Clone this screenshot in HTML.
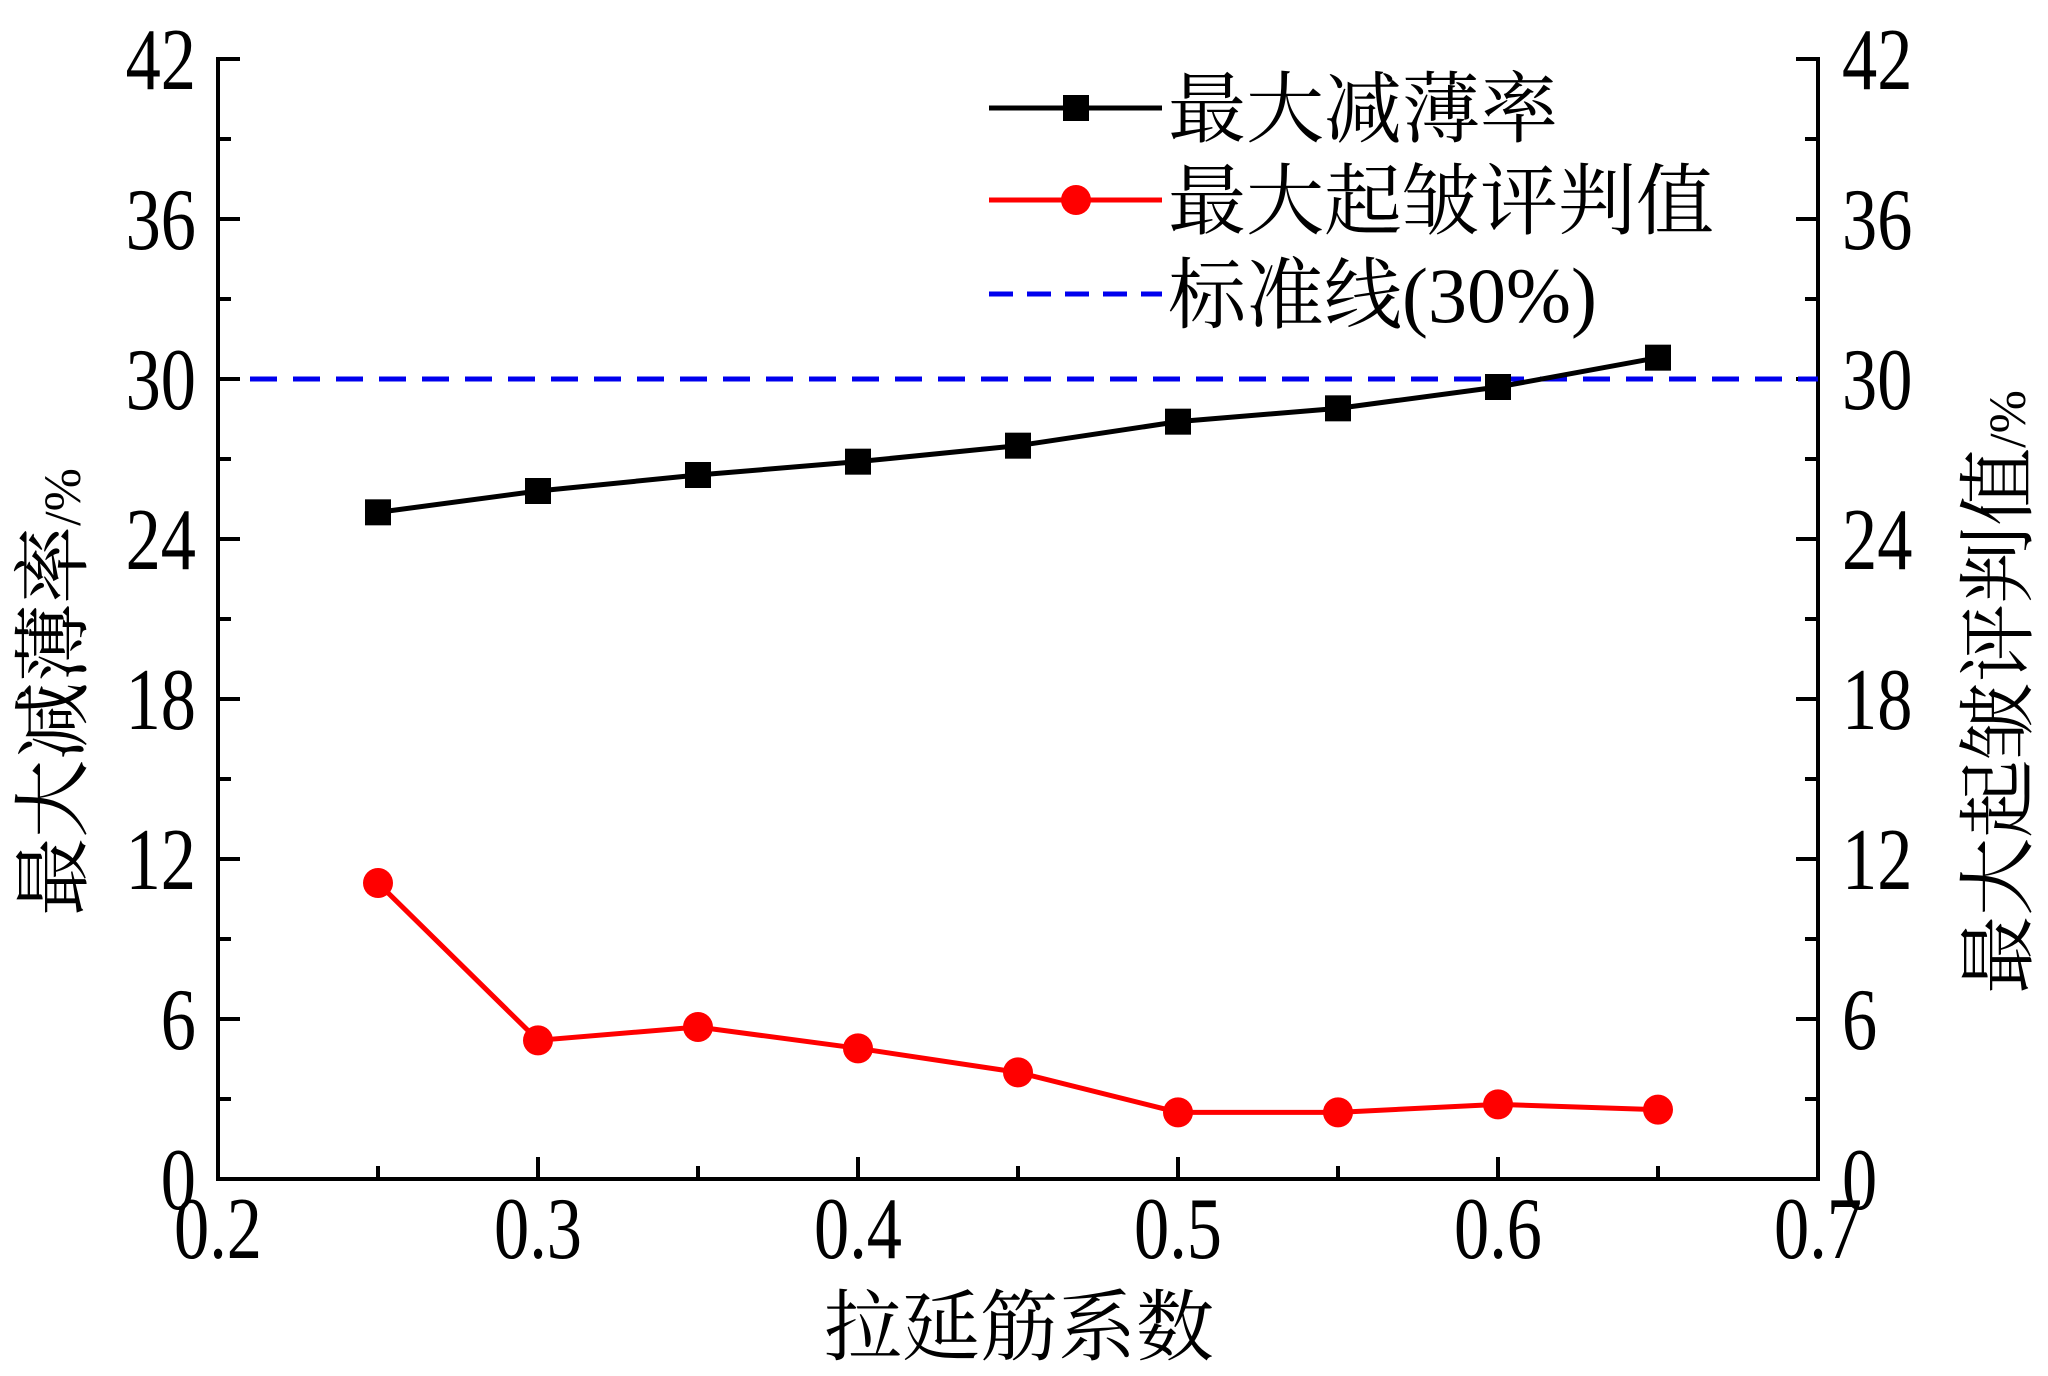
<!DOCTYPE html>
<html><head><meta charset="utf-8"><style>
html,body{margin:0;padding:0;background:#fff;}
svg{display:block;}
.tk{font-family:"Liberation Serif",serif;font-size:88px;fill:#000;}
.cj{font-family:"Liberation Serif","Noto Serif CJK SC","Noto Sans CJK SC",serif;font-size:78px;fill:#000;}
</style></head><body>
<svg id="chart" width="2048" height="1376" viewBox="0 0 2048 1376" xmlns="http://www.w3.org/2000/svg">
<g id="axes"></g>
<g id="marks"></g>
<g id="legend"></g>
<text class="cj" x="1019" y="1354" text-anchor="middle">拉延筋系数</text>
<text class="cj" transform="translate(80,692) rotate(-90)" text-anchor="middle">最大减薄率<tspan font-size="52">/%</tspan></text>
<text class="cj" transform="translate(2025,692) rotate(-90)" text-anchor="middle">最大起皱评判值<tspan font-size="52">/%</tspan></text>
</svg>
<script>
const xCats = [0.25,0.3,0.35,0.4,0.45,0.5,0.55,0.6,0.65];
const thinning = [25.0,25.8,26.4,26.9,27.5,28.4,28.9,29.7,30.8];
const wrinkle = [11.1,5.2,5.7,4.9,4.0,2.5,2.5,2.8,2.6];
const standard = 30;
const yTicks = [0,6,12,18,24,30,36,42];
const xTicks = [0.2,0.3,0.4,0.5,0.6,0.7];

const L=218,R=1818,T=59,B=1179;
const xS=v=>L+(v-0.2)/(0.7-0.2)*(R-L);
const yS=v=>B-v/42*(B-T);
const NS='http://www.w3.org/2000/svg';
function mk(tag,attrs,parent){const e=document.createElementNS(NS,tag);for(const k in attrs)e.setAttribute(k,attrs[k]);parent.appendChild(e);return e;}
const axes=document.getElementById('axes'),marks=document.getElementById('marks'),legend=document.getElementById('legend');
const SX=0.8;

let e;
e=mk('line',{x1:L,y1:T-2,x2:L,y2:B,stroke:'#000','stroke-width':4},axes);


e=mk('line',{x1:R,y1:T-2,x2:R,y2:B,stroke:'#000','stroke-width':4},axes);


e=mk('line',{x1:L-2,y1:B,x2:R+2,y2:B,stroke:'#000','stroke-width':4},axes);



for(let v=0;v<=42;v+=3){
  const y=yS(v),len=(v%6===0)?22:13;
  mk('line',{x1:L,y1:y,x2:L+len,y2:y,stroke:'#000','stroke-width':4},axes);
  mk('line',{x1:R,y1:y,x2:R-len,y2:y,stroke:'#000','stroke-width':4},axes);
}
yTicks.forEach(v=>{
  const y=yS(v)+30;
  let t=mk('text',{transform:'translate('+(L-22)+','+y+') scale('+SX+',1)','text-anchor':'end',class:'tk'},axes);t.textContent=v;
  
  
  t=mk('text',{transform:'translate('+(R+24)+','+y+') scale('+SX+',1)','text-anchor':'start',class:'tk'},axes);t.textContent=v;
  
  
});
for(let i=0;i<=10;i++){
  const v=0.2+i*0.05,x=xS(v),len=(i%2===0)?22:13;
  mk('line',{x1:x,y1:B,x2:x,y2:B-len,stroke:'#000','stroke-width':4},axes);
}
xTicks.forEach(v=>{
  const t=mk('text',{transform:'translate('+xS(v)+',1258) scale('+SX+',1)','text-anchor':'middle',class:'tk'},axes);t.textContent=v.toFixed(1);
  
  
});

e=mk('line',{x1:xS(0.21),y1:yS(standard),x2:R,y2:yS(standard),stroke:'#0000ee','stroke-width':5,'stroke-dasharray':'27 16'},marks);



e=mk('polyline',{points:xCats.map((x,i)=>xS(x)+','+yS(thinning[i])).join(' '),fill:'none',stroke:'#000','stroke-width':5},marks);


xCats.forEach((x,i)=>{
  const r=mk('rect',{x:xS(x)-13,y:yS(thinning[i])-13,width:26,height:26,fill:'#000'},marks);
  
  
});
e=mk('polyline',{points:xCats.map((x,i)=>xS(x)+','+yS(wrinkle[i])).join(' '),fill:'none',stroke:'#f00','stroke-width':5},marks);


xCats.forEach((x,i)=>{
  const c=mk('circle',{cx:xS(x),cy:yS(wrinkle[i]),r:15,fill:'#f00'},marks);
  
  
});

const lg=[['最大减薄率','#000','sq',108],['最大起皱评判值','#f00','ci',200],['标准线(30%)','#0000ee','da',294]];
lg.forEach(([lab,col,m,y])=>{
  const g=mk('g',{},legend);
  
  
  if(m==='da') mk('line',{x1:989,y1:y,x2:1162,y2:y,stroke:col,'stroke-width':5,'stroke-dasharray':'24 14'},g);
  else mk('line',{x1:989,y1:y,x2:1162,y2:y,stroke:col,'stroke-width':5},g);
  if(m==='sq') mk('rect',{x:1063,y:y-13,width:26,height:26,fill:col},g);
  if(m==='ci') mk('circle',{cx:1076,cy:y,r:15,fill:col},g);
  const t=mk('text',{x:1168,y:y+28,class:'cj'},g);t.textContent=lab;
});
</script>
</body></html>
